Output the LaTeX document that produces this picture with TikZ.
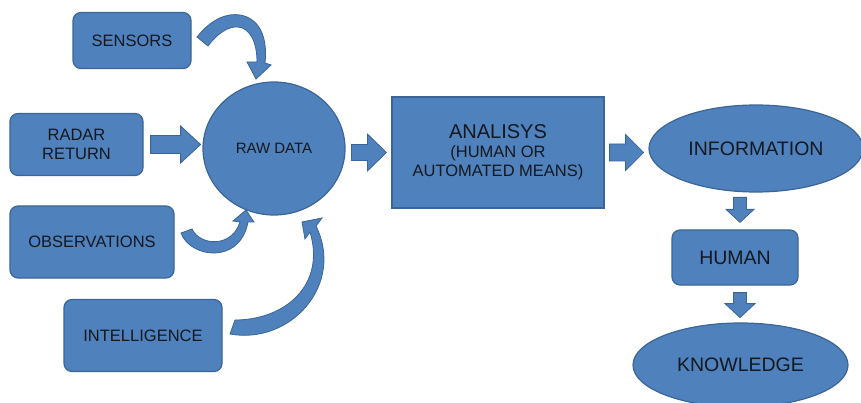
\documentclass[tikz,border=0pt]{standalone}
\usepackage{fontspec}
\setmainfont{Liberation Sans}
\usetikzlibrary{calc,shapes.geometric}

\definecolor{boxfill}{HTML}{4F81BD}
\definecolor{boxline}{HTML}{3B6596}
\definecolor{ink}{HTML}{141820}

\newcommand{\bigsz}{\fontsize{20}{19}\selectfont}
\newcommand{\smallsz}{\fontsize{16.5}{19}\selectfont}

\tikzset{
  shapebase/.style={fill=boxfill, draw=boxline, line width=1.2pt, text=ink, align=center, inner sep=0pt},
  srcbox/.style={shapebase, rounded corners=8pt, font=\fontsize{16.5}{19}\selectfont},
  bigbox/.style={shapebase, font=\fontsize{19.5}{22}\selectfont},
  blockarrow/.style={fill=boxfill, draw=boxline, line width=0.8pt, line join=miter},
  pics/barrow/.style n args={4}{code={
    \path[blockarrow] (0,-#2) -- ({#1-#4},-#2) -- ({#1-#4},-#3) -- (#1,0)
      -- ({#1-#4},#3) -- ({#1-#4},#2) -- (0,#2) -- cycle;
  }}
}

\begin{document}
\begin{tikzpicture}[x=1pt,y=-1pt]
\useasboundingbox (0,0) rectangle (861,403);
\clip (0,0) rectangle (861,403);

% sources
\node[srcbox, minimum width=118pt, minimum height=56pt] (sensors) at (132,40.5) {SENSORS};
\node[srcbox, minimum width=133pt, minimum height=62pt] (radar) at (76.5,144.5) {RADAR\\RETURN};
\node[srcbox, minimum width=164pt, minimum height=72pt] (obs) at (92,242) {OBSERVATIONS};
\node[srcbox, minimum width=158pt, minimum height=72pt] (intel) at (143,335.5) {INTELLIGENCE};

% processing chain
\node[shapebase, ellipse, minimum width=142pt, minimum height=133pt,
      font=\fontsize{15}{18}\selectfont] (raw) at (274,148.5) {RAW DATA};
\node[shapebase, rectangle, minimum width=212pt, minimum height=111pt, font=\smallsz] (ana) at (498,152.5)
  {{\bigsz ANALISYS}\\ (HUMAN OR\\ AUTOMATED MEANS)};
\node[bigbox, ellipse, minimum width=214pt, minimum height=87pt] (info) at (756,148.5) {INFORMATION};
\node[bigbox, rounded corners=8pt, minimum width=126pt, minimum height=55pt] (human) at (735,257.5) {HUMAN};
\node[bigbox, ellipse, minimum width=215pt, minimum height=84pt] (know) at (740.5,365) {KNOWLEDGE};

% straight block arrows
\pic at ($(radar.east)+(7,0)$) {barrow={50}{9}{18.5}{20}};
\pic at ($(ana.west)+(-40,0)$) {barrow={35}{8}{18.5}{19}};
\pic at ($(ana.east)+(5,0)$) {barrow={34}{8.5}{18}{18}};
\pic[rotate=-90] at ($(human.north)+(5,-32)$) {barrow={25}{6.5}{14}{13}};
\pic[rotate=-90] at ($(human.south)+(5,7)$) {barrow={25}{6.5}{15}{14}};

% curved arrows into the raw data
\path[blockarrow] (197,37) .. controls (212,18) and (228,13) .. (240,15)
  .. controls (258,18) and (268,35) .. (265,63)
  -- (271,65) -- (256,79) -- (247,62) -- (257,62)
  .. controls (257,42) and (250,28) .. (238,27)
  .. controls (228,26) and (217,34) .. (208,46) -- cycle;

\path[blockarrow] (181,233) .. controls (190,258) and (240,265) .. (248,222)
  -- (254,222) -- (246,210) -- (233,221) -- (240,222)
  .. controls (232,248) and (200,246) .. (192,229) -- cycle;

\path[blockarrow] (230,334) .. controls (290,345) and (345,285) .. (316,226)
  -- (322,218) -- (302,222) -- (305,239) -- (310,232)
  .. controls (326,285) and (285,320) .. (235,320) -- cycle;
\end{tikzpicture}
\end{document}
